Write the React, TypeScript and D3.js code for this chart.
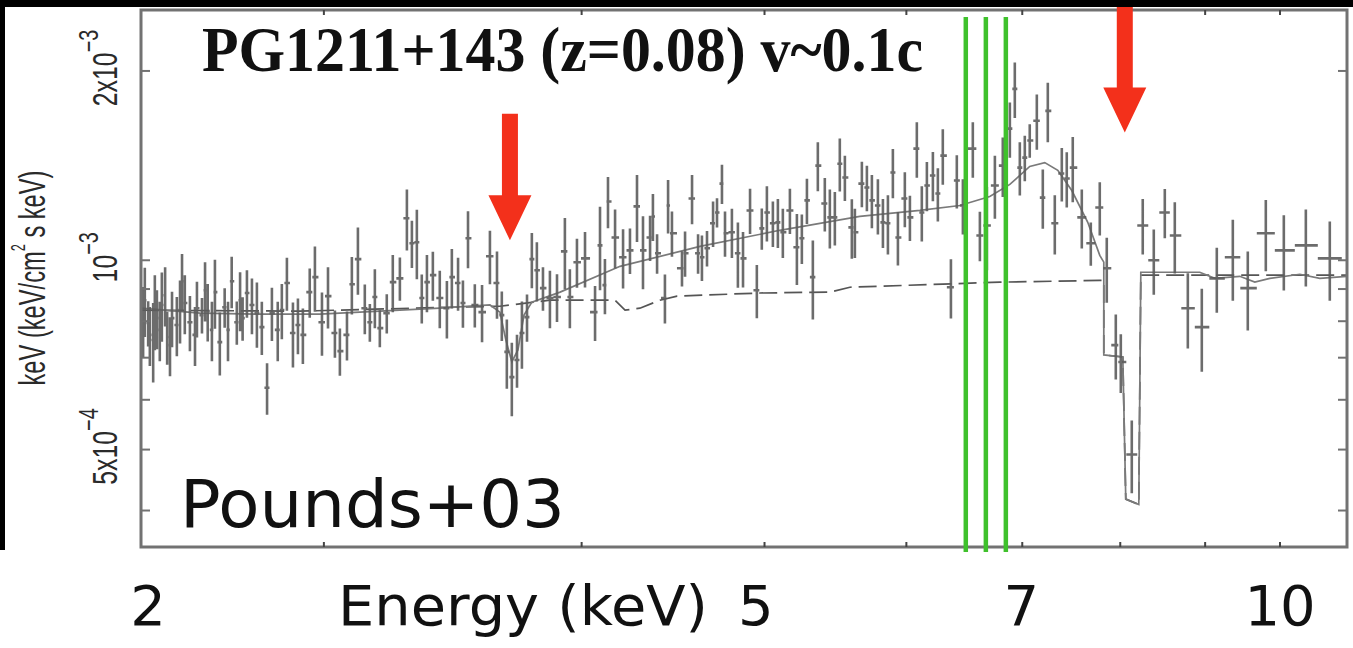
import React from "react";
import * as d3 from "d3";

// Spectrum bins: energy (keV), flux (units of 1e-3 keV^2 ph/cm^2/s/keV) and 1-sigma error
const energy = [
  1.505, 1.509, 1.517, 1.521, 1.529, 1.533, 1.538, 1.545, 1.55, 1.558, 1.563, 1.57, 1.575, 1.587, 1.595, 1.6,
  1.607, 1.62, 1.633, 1.638, 1.651, 1.659, 1.666, 1.677, 1.685, 1.698, 1.711, 1.72, 1.73, 1.744, 1.753, 1.76,
  1.772, 1.786, 1.8, 1.814, 1.829, 1.843, 1.86, 1.872, 1.887, 1.905, 1.92,
  1.935, 1.956, 1.972, 1.994, 2.013, 2.035, 2.051, 2.074, 2.09, 2.11, 2.133, 2.15, 2.167, 2.184, 2.208, 2.229,
  2.254, 2.279, 2.297, 2.315, 2.333, 2.352, 2.374, 2.4, 2.427, 2.446, 2.47, 2.489, 2.509, 2.536, 2.565, 2.597,
  2.626, 2.646, 2.667, 2.688, 2.71, 2.731, 2.753, 2.774, 2.796, 2.823, 2.854, 2.886, 2.922, 2.945, 2.978,
  3.016, 3.064, 3.088, 3.112, 3.127, 3.162, 3.202, 3.237, 3.273, 3.304, 3.341, 3.356, 3.378, 3.42, 3.437, 3.458,
  3.513, 3.53, 3.569, 3.603, 3.625, 3.654, 3.689, 3.712, 3.741, 3.759, 3.8, 3.836, 3.867, 3.91, 3.952, 3.983,
  4.015, 4.053, 4.085, 4.117, 4.163, 4.209, 4.242, 4.276, 4.316, 4.35, 4.398, 4.433, 4.468, 4.503, 4.539, 4.589,
  4.611, 4.662, 4.699, 4.736, 4.781, 4.819, 4.857, 4.895, 4.934, 4.988, 5.028, 5.083, 5.123, 5.164, 5.213, 5.254,
  5.295, 5.363, 5.413, 5.465, 5.551, 5.613, 5.675, 5.747, 5.819, 5.884, 5.93, 5.977, 6.024, 6.071, 6.139, 6.197,
  6.246, 6.315, 6.385, 6.435, 6.496, 6.589, 6.683, 6.778, 6.853, 6.951, 7.006, 7.128, 7.252, 7.379, 7.508, 7.627,
  7.785, 7.958, 8.148, 8.356, 8.555, 8.801, 9.054, 9.373, 9.733,
];
const flux = [
  0.803, 0.864, 0.795, 0.761, 0.747, 0.833, 0.809, 0.775, 0.849, 0.88, 0.755, 0.733, 0.809, 0.789, 0.833, 0.926,
  0.855, 0.797, 0.761, 0.839, 0.818, 0.896, 0.83, 0.775, 0.89, 0.741, 0.842, 0.775, 0.926, 0.797, 0.864, 0.809,
  0.887, 0.849, 0.824, 0.783, 0.627, 0.824, 0.775, 0.833, 0.92, 0.766, 0.789,
  0.761, 0.89, 0.94, 0.797, 0.877, 0.766, 0.717, 0.761, 0.916, 1.004, 0.839, 0.797, 0.874, 0.78, 0.824, 0.923,
  0.936, 1.166, 1.064, 1.068, 0.871, 0.923, 0.947, 0.871, 0.839, 0.94, 0.92, 0.855, 1.084, 0.849, 0.827, 1.015,
  0.92, 0.818, 0.715, 0.652, 0.694, 0.766, 0.812, 1.004, 0.964, 0.903, 0.871, 0.874, 1.033, 0.874, 0.993,
  1.007, 0.827, 1.056, 0.913, 1.24, 1.087, 1.011, 1.037, 1.218, 1.037, 1.087, 1.174, 1.026, 0.871, 1.222, 1.104,
  0.971, 1.026, 1.254, 1.026, 1.011, 1.045, 1.145, 1.191, 1.324, 1.104, 1.108, 1.026, 1.007, 1.2, 0.896, 1.124,
  1.191, 1.145, 1.149, 1.108, 1.2, 1.049, 1.084, 1.245, 0.94, 1.414, 1.231, 1.17, 1.17, 1.424, 1.354, 1.128,
  1.108, 1.324, 1.305, 1.245, 1.222, 1.149, 1.145, 1.379, 1.087, 1.254, 1.17, 1.505, 1.191, 1.315, 1.364, 1.277,
  1.467, 0.906, 1.339, 1.222, 1.505, 1.095, 1.136, 1.315, 1.414, 1.619, 1.873, 1.404, 1.456, 1.55, 1.667, 1.258,
  1.728, 1.145, 1.374, 1.349, 1.404, 1.17, 1.064, 1.213, 0.971, 0.733, 0.689, 0.491, 1.136, 1.0, 1.191, 1.095,
  0.839, 0.783, 0.936, 1.011, 0.903, 1.104, 1.037, 1.056, 1.007,
];
const fluxErr = [
  0.104, 0.109, 0.066, 0.082, 0.108, 0.114, 0.087, 0.084, 0.107, 0.095, 0.073, 0.079, 0.082, 0.085, 0.096, 0.097,
  0.092, 0.08, 0.082, 0.085, 0.053, 0.097, 0.087, 0.084, 0.112, 0.085, 0.061, 0.084, 0.087, 0.063, 0.093, 0.064,
  0.077, 0.086, 0.098, 0.076, 0.059, 0.08, 0.084, 0.084, 0.089, 0.091, 0.08,
  0.077, 0.08, 0.112, 0.092, 0.098, 0.066, 0.062, 0.068, 0.096, 0.123, 0.076, 0.055, 0.094, 0.053, 0.059, 0.096,
  0.074, 0.13, 0.092, 0.135, 0.078, 0.096, 0.085, 0.091, 0.088, 0.102, 0.089, 0.074, 0.113, 0.067, 0.086, 0.099,
  0.113, 0.074, 0.09, 0.087, 0.067, 0.094, 0.07, 0.101, 0.104, 0.072, 0.091, 0.076, 0.134, 0.094, 0.089,
  0.102, 0.083, 0.16, 0.092, 0.116, 0.117, 0.109, 0.086, 0.149, 0.138, 0.09, 0.101, 0.074, 0.078, 0.119, 0.091,
  0.063, 0.085, 0.113, 0.074, 0.084, 0.068, 0.095, 0.064, 0.095, 0.091, 0.1, 0.122, 0.102, 0.099, 0.087, 0.085,
  0.12, 0.095, 0.103, 0.1, 0.099, 0.136, 0.098, 0.103, 0.135, 0.127, 0.12, 0.126, 0.114, 0.138, 0.112, 0.122,
  0.1, 0.11, 0.108, 0.121, 0.123, 0.103, 0.124, 0.124, 0.106, 0.126, 0.097, 0.152, 0.12, 0.118, 0.123, 0.124,
  0.148, 0.098, 0.13, 0.123, 0.152, 0.099, 0.172, 0.151, 0.153, 0.163, 0.189, 0.136, 0.121, 0.095, 0.168, 0.136,
  0.187, 0.124, 0.134, 0.136, 0.167, 0.126, 0.084, 0.118, 0.115, 0.087, 0.074, 0.065, 0.115, 0.119, 0.107, 0.142,
  0.115, 0.118, 0.111, 0.149, 0.13, 0.143, 0.142, 0.148, 0.145,
];

// Best-fit model (solid) and continuum (dashed)
const modelE = [
  1.5, 1.646, 1.809, 1.987, 2.184, 2.4, 2.597, 2.638, 2.663, 2.688, 2.714, 2.74, 2.774, 2.9, 3.187, 3.614, 4.098,
  4.647, 5.107, 5.439, 5.701, 5.884, 6.071, 6.216, 6.345, 6.486, 6.651, 6.778, 6.821, 6.821, 7.028, 7.061, 7.207,
  7.23, 7.933, 8.123, 8.448, 8.65, 8.857, 9.285, 9.581, 10.0,
];
const modelF = [
  0.839, 0.824, 0.821, 0.821, 0.83, 0.839, 0.849, 0.827, 0.747, 0.689, 0.72, 0.818, 0.858, 0.89, 0.978, 1.052, 1.116,
  1.174, 1.2, 1.222, 1.263, 1.32, 1.41, 1.43, 1.39, 1.291, 1.149, 1.018, 0.993, 0.707, 0.702, 0.417, 0.409,
  0.957, 0.957, 0.936, 0.943, 0.923, 0.936, 0.95, 0.936, 0.943,
];
const contE = [
  1.5, 1.926, 2.439, 2.638, 2.854, 3.162, 3.212, 3.288, 3.393, 3.486, 3.971, 4.433, 4.575, 5.792, 6.778, 6.821,
  6.821, 7.028, 7.061, 7.207, 7.23, 10.0,
];
const contF = [
  0.833, 0.83, 0.842, 0.845, 0.864, 0.864, 0.833, 0.839, 0.864, 0.877, 0.887, 0.89, 0.906, 0.923, 0.929, 0.929,
  0.707, 0.702, 0.417, 0.409, 0.947, 0.947,
];

// Axes
const xTicks = [2, 3, 4, 5, 6, 7, 8, 9];
const yMajor = [0.5, 1, 2];
const yMinor = [0.4, 0.6, 0.7, 0.8, 0.9];
const yTickMantissa = ["5x10", "10", "2x10"];
const yTickExp = ["\u22124", "\u22123", "\u22123"];

// Slide overlay annotations
const xLabelText = ["2", "5", "7", "10"];
const xLabelAt = [1.517, 3.946, 5.99, 9.0];
const lineEnergies = [5.49, 5.666, 5.847];
const arrowE = [2.68, 7.05];
const arrowTipF = [1.076, 1.596];
const arrowTailF = [1.71, 2.58];

export default function App() {
  const W = 1353;
  const H = 648;
  const x = d3.scaleLog().domain([1.5, 10]).range([141, 1347]);
  const y = d3.scaleLog().domain([0.35, 2.5]).range([547, 10]);
  const [x0, x1] = x.range();
  const [yb, yt] = y.range();

  const n = energy.length;
  let dataPath = "";
  energy.forEach((e, i) => {
    const lo = i > 0 ? Math.sqrt(energy[i - 1] * e) : (e * e) / Math.sqrt(e * energy[i + 1]);
    const hi = i < n - 1 ? Math.sqrt(e * energy[i + 1]) : (e * e) / Math.sqrt(energy[i - 1] * e);
    const xc = x(e);
    const yc = y(flux[i]);
    dataPath += `M${xc},${y(flux[i] - fluxErr[i])}V${y(flux[i] + fluxErr[i])}M${x(lo)},${yc}H${x(hi)}`;
  });

  const line = d3
    .line<[number, number]>()
    .x((d) => x(d[0]))
    .y((d) => y(d[1]));
  const modelPath = line(d3.zip(modelE, modelF) as [number, number][]) || "";
  const contPath = line(d3.zip(contE, contF) as [number, number][]) || "";

  const tickLen = 9;
  const axisColor = "#727272";

  return (
    <svg
      width={W}
      height={H}
      style={{ position: "absolute", left: 0, top: 0, display: "block", background: "#fff" }}
    >
      <defs>
        <clipPath id="plotClip">
          <rect x={x0} y={yt} width={x1 - x0} height={yb - yt} />
        </clipPath>
      </defs>
      <rect x={0} y={0} width={W} height={H} fill="#fff" />

      {/* data and models */}
      <g clipPath="url(#plotClip)">
        <path d={contPath} fill="none" stroke="#555" strokeWidth={1.7} strokeDasharray="18 7" />
        <path d={modelPath} fill="none" stroke="#7a7a7a" strokeWidth={1.7} />
        <path d={dataPath} fill="none" stroke="#5c5c5c" strokeWidth={2.6} strokeOpacity={0.9} />
      </g>

      {/* frame */}
      <rect x={x0} y={yt} width={x1 - x0} height={yb - yt} fill="none" stroke={axisColor} strokeWidth={3} />
      {xTicks.map((t) => (
        <g key={"xt" + t}>
          <line x1={x(t)} x2={x(t)} y1={yb} y2={yb - 5} stroke="#444" strokeWidth={2} />
          <line x1={x(t)} x2={x(t)} y1={yt} y2={yt + 5} stroke="#444" strokeWidth={2} />
        </g>
      ))}
      {yMajor.concat(yMinor).map((t) => (
        <g key={"yt" + t}>
          <line x1={x0} x2={x0 + tickLen} y1={y(t)} y2={y(t)} stroke={axisColor} strokeWidth={2} />
          <line x1={x1} x2={x1 - tickLen} y1={y(t)} y2={y(t)} stroke={axisColor} strokeWidth={2} />
        </g>
      ))}

      {/* y tick labels */}
      {yMajor.map((t, i) => (
        <text
          key={"yl" + t}
          transform={`translate(117,${y(t) - 3}) rotate(-90) scale(0.71,1)`}
          textAnchor="middle"
          fontFamily="Liberation Sans, Arial, sans-serif"
          fontSize={35}
          fill="#2a2a2a"
        >
          {yTickMantissa[i]}
          <tspan fontSize={28} dy={-19}>
            {yTickExp[i]}
          </tspan>
        </text>
      ))}

      {/* y axis title */}
      <text
        transform="translate(45,278) rotate(-90) scale(0.64,1)"
        textAnchor="middle"
        fontFamily="Liberation Sans, Arial, sans-serif"
        fontSize={37}
        fill="#2a2a2a"
      >
        keV (keV/cm
        <tspan fontSize={20} dy={-20}>
          2
        </tspan>
        <tspan dy={20}> s keV)</tspan>
      </text>

      {/* green Fe K lines */}
      {lineEnergies.map((e) => (
        <line key={"g" + e} x1={x(e)} x2={x(e)} y1={17} y2={552} stroke="#3fc12c" strokeWidth={4.5} />
      ))}

      {/* red arrows */}
      {arrowE.map((e, i) => {
        const cx = x(e);
        const tip = y(arrowTipF[i]);
        const tail = y(arrowTailF[i]);
        const headLen = 45;
        const headHalf = 21.5;
        const shaftHalf = 8;
        const hb = tip - headLen;
        const pts = [
          [cx - shaftHalf, tail],
          [cx + shaftHalf, tail],
          [cx + shaftHalf, hb],
          [cx + headHalf, hb],
          [cx, tip],
          [cx - headHalf, hb],
          [cx - shaftHalf, hb],
        ];
        return <polygon key={"a" + e} points={pts.map((p) => p.join(",")).join(" ")} fill="#f3301b" />;
      })}

      {/* title */}
      <text
        x={202}
        y={71}
        fontFamily="Liberation Serif, Times New Roman, serif"
        fontWeight="bold"
        fontSize={64}
        textLength={721}
        lengthAdjust="spacingAndGlyphs"
        fill="#111"
      >
        PG1211+143 (z=0.08) v~0.1c
      </text>

      {/* reference note */}
      <text
        x={180}
        y={527}
        fontFamily="DejaVu Sans, sans-serif"
        fontSize={66}
        textLength={385}
        lengthAdjust="spacingAndGlyphs"
        fill="#111"
      >
        Pounds+03
      </text>

      {/* x labels (slide overlay) */}
      <text
        x={338}
        y={625}
        fontFamily="DejaVu Sans, Verdana, sans-serif"
        fontSize={56}
        textLength={370}
        lengthAdjust="spacingAndGlyphs"
        fill="#111"
      >
        Energy (keV)
      </text>
      {xLabelText.map((s, i) => (
        <text
          key={"xl" + s}
          x={x(xLabelAt[i])}
          y={625}
          textAnchor="middle"
          fontFamily="DejaVu Sans, Verdana, sans-serif"
          fontSize={56}
          fill="#111"
        >
          {s}
        </text>
      ))}

      {/* slide borders */}
      <rect x={0} y={0} width={W} height={7} fill="#000" />
      <rect x={0} y={0} width={5} height={550} fill="#000" />
    </svg>
  );
}
